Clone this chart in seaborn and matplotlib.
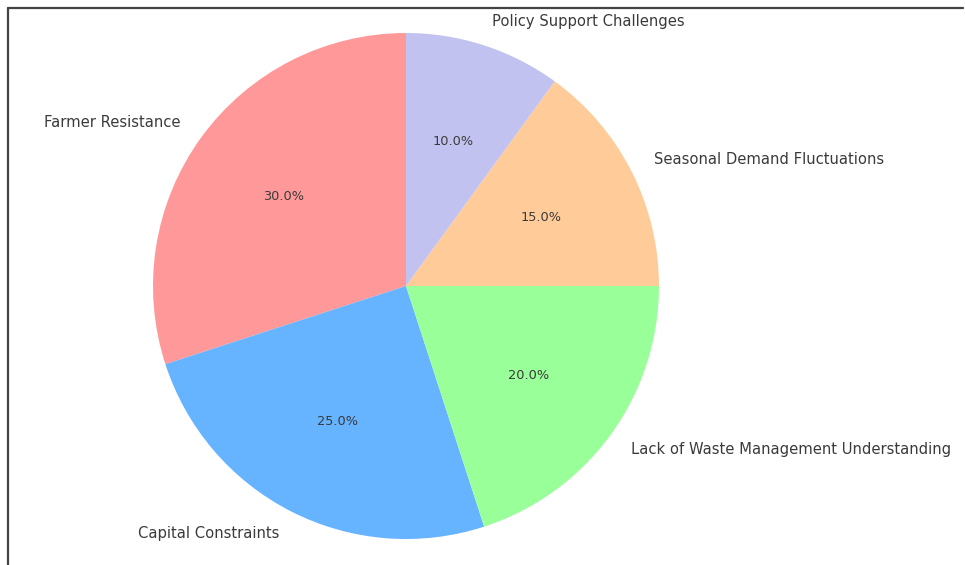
import matplotlib
matplotlib.use("Agg")
import matplotlib.pyplot as plt
from matplotlib.lines import Line2D
import seaborn as sns

sns.set_theme(style="white")
plt.rcParams['font.family'] = ['DejaVu Sans']

categories = ["Farmer Resistance", "Capital Constraints",
              "Lack of Waste Management Understanding",
              "Seasonal Demand Fluctuations", "Policy Support Challenges"]
values = [30, 25, 20, 15, 10]
colors = ["#ff9999", "#66b3ff", "#99ff99", "#ffcc99", "#c2c2f0"]

W, H = 965, 565
fig = plt.figure(figsize=(W / 100, H / 100), dpi=100)
fig.patch.set_facecolor("white")

cx, cy, r = 406, 565 - 286, 253
half = 1.25 * r
ax = fig.add_axes([(cx - half) / W, (cy - half) / H, 2 * half / W, 2 * half / H])
wedges, texts, autotexts = ax.pie(values, labels=categories, colors=colors,
                                  autopct="%1.1f%%", startangle=90,
                                  wedgeprops={"linewidth": 0, "edgecolor": "none"},
                                  textprops={"color": "#3a3a3a"})
for t in texts:
    t.set_fontsize(10.6)
for t in autotexts:
    t.set_fontsize(9.3)
ax.set_aspect("equal")

# screenshot frame
fig.add_artist(Line2D([8 / W, 963 / W], [1 - 8 / H, 1 - 8 / H], transform=fig.transFigure,
                      color="#444444", lw=1.6))
fig.add_artist(Line2D([8 / W, 8 / W], [0, 1 - 8 / H], transform=fig.transFigure,
                      color="#444444", lw=1.6))

fig.savefig("out.png", dpi=100)
